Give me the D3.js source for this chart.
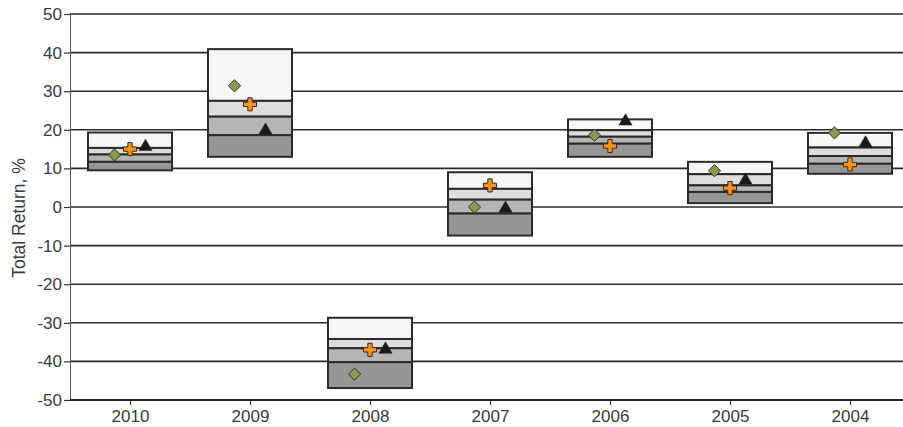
<!DOCTYPE html>
<html>
<head>
<meta charset="utf-8">
<script src="https://cdn.jsdelivr.net/npm/d3@7/dist/d3.min.js"></script>
<style>
  html, body { margin: 0; padding: 0; background: #fff; }
  svg { display: block; }
  text { font-family: "Liberation Sans", Arial, sans-serif; fill: #3a3a3a; }
</style>
</head>
<body>
<svg id="chart" width="903" height="427"></svg>
<script>
const categories = ["2010", "2009", "2008", "2007", "2006", "2005", "2004"];
// box boundaries (top to bottom)
const boxTop    = [19.3, 40.9, -28.7, 9.0, 22.7, 11.7, 19.2];
const boxUpper  = [15.3, 27.5, -34.2, 4.7, 19.9, 8.5, 15.4];
const boxMedian = [13.6, 23.4, -36.6, 1.9, 18.2, 5.6, 13.2];
const boxLower  = [11.7, 18.6, -40.2, -1.7, 16.4, 3.9, 11.2];
const boxBottom = [9.5, 13.0, -46.9, -7.4, 13.0, 1.0, 8.6];
// markers
const diamondValues  = [13.5, 31.4, -43.3, 0.0, 18.6, 9.4, 19.2];
const plusValues     = [15.0, 26.6, -37.0, 5.6, 15.8, 4.9, 11.0];
const triangleValues = [15.6, 19.8, -36.9, -0.4, 22.2, 6.9, 16.5];
const yTicks = [50, 40, 30, 20, 10, 0, -10, -20, -30, -40, -50];
const yLabel = "Total Return, %";

const svg = d3.select("#chart");
const xc = d3.scalePoint().domain(categories).range([70, 910]).padding(0.5);
const y = d3.scaleLinear().domain([-50, 50]).range([400, 14]);

// gridlines
svg.append("g").selectAll("line").data(yTicks.filter(t => t !== -50)).join("line")
  .attr("x1", 70).attr("x2", 903)
  .attr("y1", d => y(d)).attr("y2", d => y(d))
  .attr("stroke", "#2a2a2a").attr("stroke-width", 1.6);

// y axis
const yAxis = svg.append("g").attr("transform", "translate(70,0)")
  .call(d3.axisLeft(y).tickValues(yTicks).tickSize(6).tickPadding(2).tickFormat(d => String(d)));
yAxis.select(".domain").attr("stroke", "#555").attr("stroke-width", 1);
yAxis.selectAll(".tick line").attr("stroke", "#333").attr("stroke-width", 1.2);
yAxis.selectAll("text").style("font-size", "17px").attr("fill", "#3a3a3a")
  .style("font-family", "'Liberation Sans', Arial, sans-serif");

// x axis
const xAxis = svg.append("g").attr("transform", "translate(0,400)")
  .call(d3.axisBottom(xc).tickSize(5).tickPadding(5).tickSizeOuter(0));
xAxis.select(".domain").attr("stroke", "#222").attr("stroke-width", 2).attr("d", "M70,0H903");
xAxis.selectAll(".tick line").attr("stroke", "#333").attr("stroke-width", 1.2);
xAxis.selectAll("text").style("font-size", "17px").attr("fill", "#3a3a3a")
  .style("font-family", "'Liberation Sans', Arial, sans-serif");

// y label
svg.append("text")
  .attr("transform", "translate(25,218) rotate(-90)")
  .attr("text-anchor", "middle")
  .style("font-size", "17.5px")
  .text(yLabel);

// boxes
const fills = ["#f6f6f6", "#dddddd", "#b5b5b5", "#969696"];
const data = categories.map((c, i) => ({
  c, bounds: [boxTop[i], boxUpper[i], boxMedian[i], boxLower[i], boxBottom[i]]
}));
const bw = 84;
const boxes = svg.append("g").selectAll("g").data(data).join("g");
boxes.each(function(d) {
  const g = d3.select(this);
  const cx = xc(d.c);
  for (let k = 0; k < 4; k++) {
    g.append("rect")
      .attr("x", cx - bw / 2)
      .attr("y", y(d.bounds[k]))
      .attr("width", bw)
      .attr("height", y(d.bounds[k + 1]) - y(d.bounds[k]))
      .attr("fill", fills[k])
      .attr("stroke", "#2a2a2a").attr("stroke-width", 2);
  }
});

// markers
const mk = svg.append("g");
mk.selectAll(".dia").data(categories).join("path")
  .attr("transform", (c, i) => `translate(${xc(c) - 15.5},${y(diamondValues[i])})`)
  .attr("d", d3.symbol(d3.symbolDiamond2, 95)())
  .attr("fill", "#8a9a4e").attr("stroke", "#2f3320").attr("stroke-width", 1);
mk.selectAll(".plus").data(categories).join("path")
  .attr("transform", (c, i) => `translate(${xc(c)},${y(plusValues[i])})`)
  .attr("d", d3.symbol(d3.symbolCross, 95)())
  .attr("fill", "#f7941d").attr("stroke", "#3a2a10").attr("stroke-width", 1);
mk.selectAll(".tri").data(categories).join("path")
  .attr("transform", (c, i) => `translate(${xc(c) + 15.5},${y(triangleValues[i])})`)
  .attr("d", d3.symbol(d3.symbolTriangle, 75)())
  .attr("fill", "#1a1a1a").attr("stroke", "#1a1a1a").attr("stroke-width", 0.5);
</script>
</body>
</html>
